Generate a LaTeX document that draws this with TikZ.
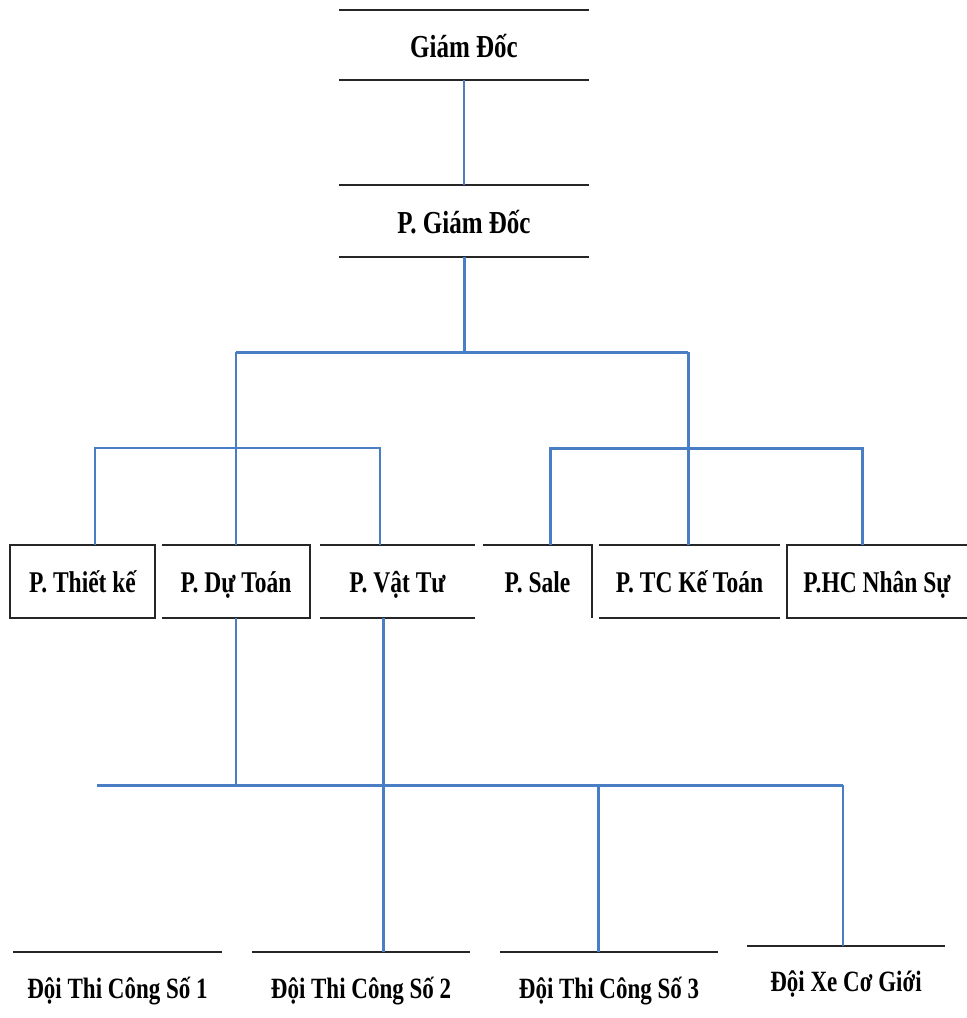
\documentclass[tikz,border=0pt]{standalone}
\usepackage{graphicx}
\usepackage{fontspec}
\setmainfont{Liberation Serif}
\definecolor{linkblue}{RGB}{74,126,196}
\newcommand\tallword[1]{\scalebox{1}[1.28]{#1}}
\tikzset{
  unit/.style={inner sep=0pt, minimum height=73pt, text height=26pt, text depth=5pt, font=\bfseries\fontsize{23.5}{26}\selectfont},
  team/.style={inner sep=0pt, minimum height=70pt, text height=27pt, text depth=5pt, font=\bfseries\fontsize{23}{25}\selectfont},
  rule/.style={line width=1.8pt, black!85},
  thinlink/.style={draw=linkblue, line width=1.6pt},
  thicklink/.style={draw=linkblue, line width=3pt},
}
\begin{document}
\begin{tikzpicture}[>=latex, x=1pt, y=-1pt]
      \useasboundingbox (0,0) rectangle (967,1018);

      \path (464,45) node [unit, minimum width=249pt, minimum height=70pt, text height=28pt, text depth=4pt, font=\bfseries\fontsize{25}{28}\selectfont](gd){\tallword{Giám Đốc}};
      \path (464,221) node [unit, minimum width=249pt, minimum height=72pt, text height=28pt, text depth=4pt, font=\bfseries\fontsize{25}{28}\selectfont](pgd){\tallword{P. Giám Đốc}};
      \path (82.5,581.5) node [unit, minimum width=145pt](tk){\tallword{P. Thiết kế}};
      \path (236,581.5) node [unit, minimum width=148pt](dt){\tallword{P. Dự Toán}};
      \path (397.5,581.5) node [unit, minimum width=155pt](vt){\tallword{P. Vật Tư}};
      \path (537.5,581.5) node [unit, minimum width=109pt](sale){\tallword{P. Sale}};
      \path (689.5,581.5) node [unit, minimum width=181pt](tc){\tallword{P. TC Kế Toán}};
      \path (877,581.5) node [unit, minimum width=180pt](hc){\tallword{P.HC Nhân Sự}};
      \path (117.5,987) node [team, minimum width=209pt](d1){\tallword{Đội Thi Công Số 1}};
      \path (361,987) node [team, minimum width=218pt](d2){\tallword{Đội Thi Công Số 2}};
      \path (609,987) node [team, minimum width=218pt](d3){\tallword{Đội Thi Công Số 3}};
      \path (846,980) node [team, minimum width=198pt, minimum height=68pt](xe){\tallword{Đội Xe Cơ Giới}};

      % box edges
      \draw[rule] (gd.north west) -- (gd.north east) (gd.south west) -- (gd.south east);
      \draw[rule] (pgd.north west) -- (pgd.north east) (pgd.south west) -- (pgd.south east);
      \draw[rule] (tk.north west) rectangle (tk.south east);
      \draw[rule] (dt.north west) -- (dt.north east) -- (dt.south east) -- (dt.south west);
      \draw[rule] (vt.north west) -- (vt.north east) (vt.south west) -- (vt.south east);
      \draw[rule] (sale.north west) -- (sale.north east) -- (sale.south east);
      \draw[rule] (tc.north west) -- (tc.north east) (tc.south west) -- (tc.south east);
      \draw[rule] (hc.north east) -- (hc.north west) -- (hc.south west) -- (hc.south east);
      \draw[rule] (d1.north west) -- (d1.north east);
      \draw[rule] (d2.north west) -- (d2.north east);
      \draw[rule] (d3.north west) -- (d3.north east);
      \draw[rule] (xe.north west) -- (xe.north east);

      \coordinate (hub) at (464,352);
      \coordinate (hubL) at (236,352);
      \coordinate (hubR) at (688,352);
      \coordinate (busL1) at (95,448);
      \coordinate (busL2) at (380,448);
      \coordinate (busR1) at (550,448);
      \coordinate (busR2) at (862,448);
      \coordinate (lowA) at (97,785);
      \coordinate (drop2) at (383,785);
      \coordinate (drop3) at (598,785);
      \coordinate (lowE) at (843,785);

      \draw[thinlink] (gd.south) -- (pgd.north);
      \draw[thicklink] (pgd.south) -- (hub);
      \draw[thicklink] (hubL) -- (hubR);
      \draw[thinlink] (hubL) -- (dt.north);
      \draw[thicklink] (hubR) -- (hubR |- tc.north);
      \draw[thinlink] (busL1 |- tk.north) -- (busL1) -- (busL2) -- (busL2 |- vt.north);
      \draw[thicklink] (busR1 |- sale.north) -- (busR1) -- (busR2) -- (busR2 |- hc.north);
      \draw[thicklink] (lowA) -- (lowE);
      \draw[thinlink] (dt.south) -- (dt.south |- lowA);
      \draw[thicklink] (drop2 |- vt.south) -- (drop2 |- d2.north);
      \draw[thicklink] (drop3) -- (drop3 |- d3.north);
      \draw[thinlink] (lowE) -- (lowE |- xe.north);

    \end{tikzpicture}
\end{document}
